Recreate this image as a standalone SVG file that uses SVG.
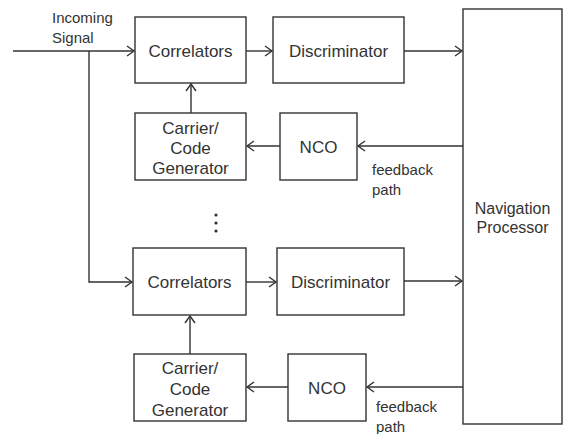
<svg xmlns="http://www.w3.org/2000/svg" width="564" height="434" viewBox="0 0 564 434">
<defs>
<style>
.box{fill:#fff;stroke:#333;stroke-width:1.4}
.t{font-family:"Liberation Sans",Arial,sans-serif;font-size:17px;fill:#333;text-anchor:middle}
.s{font-family:"Liberation Sans",Arial,sans-serif;font-size:15px;fill:#333}
.c{fill:none;stroke:#333;stroke-width:1.4;marker-end:url(#ah)}
</style>
<marker id="ah" markerWidth="12" markerHeight="12" refX="0" refY="0" viewBox="-9 -6 10 12" markerUnits="userSpaceOnUse" orient="auto">
<path d="M-7,-5 L0,0 L-7,5" fill="none" stroke="#333" stroke-width="1.4"/>
</marker>
</defs>
<rect width="564" height="434" fill="#fff"/>
<g id="connectors">
<path class="c" d="M13,51 H134"/>
<path class="c" d="M89,51 V282 H132"/>
<path class="c" d="M246,51 H272"/>
<path class="c" d="M404,51 H462"/>
<path class="c" d="M466,146 H358"/>
<path class="c" d="M280,146 H247"/>
<path class="c" d="M191,113 V84"/>
<path class="c" d="M246,282 H276"/>
<path class="c" d="M404,281 H462"/>
<path class="c" d="M467,387 H367"/>
<path class="c" d="M288,387 H247"/>
<path class="c" d="M190,354 V316"/>
</g>
<g id="incoming">
<text class="s" x="52" y="23">Incoming</text>
<text class="s" x="52" y="43">Signal</text>
</g>
<g id="correlators1"><rect class="box" x="135" y="17" width="111" height="66"/><text class="t" x="190.5" y="57">Correlators</text></g>
<g id="discriminator1"><rect class="box" x="273" y="17" width="131" height="66"/><text class="t" x="338.5" y="57">Discriminator</text></g>
<g id="generator1"><rect class="box" x="135" y="113" width="111" height="67"/>
<text class="t" x="190.5" y="134">Carrier/</text><text class="t" x="190.5" y="154">Code</text><text class="t" x="190.5" y="174">Generator</text></g>
<g id="nco1"><rect class="box" x="280" y="113" width="77" height="67"/><text class="t" x="318.5" y="153">NCO</text></g>
<g id="feedback1"><text class="s" x="372" y="175">feedback</text><text class="s" x="372" y="195">path</text></g>
<g id="dots"><circle cx="216" cy="215" r="1.6" fill="#333"/><circle cx="216" cy="223" r="1.6" fill="#333"/><circle cx="216" cy="231" r="1.6" fill="#333"/></g>
<g id="correlators2"><rect class="box" x="133" y="248" width="113" height="67"/><text class="t" x="189.5" y="288">Correlators</text></g>
<g id="discriminator2"><rect class="box" x="277" y="248" width="127" height="67"/><text class="t" x="340.5" y="288">Discriminator</text></g>
<g id="generator2"><rect class="box" x="134" y="354" width="112" height="67"/>
<text class="t" x="190" y="374">Carrier/</text><text class="t" x="190" y="395">Code</text><text class="t" x="190" y="416">Generator</text></g>
<g id="nco2"><rect class="box" x="288" y="354" width="78" height="67"/><text class="t" x="327" y="394">NCO</text></g>
<g id="feedback2"><text class="s" x="376" y="412">feedback</text><text class="s" x="376" y="432">path</text></g>
<g id="nav"><rect class="box" x="463" y="9" width="99" height="415"/>
<text class="t" x="512.5" y="214" style="font-size:16px">Navigation</text><text class="t" x="512.5" y="233" style="font-size:16px">Processor</text></g>
</svg>
